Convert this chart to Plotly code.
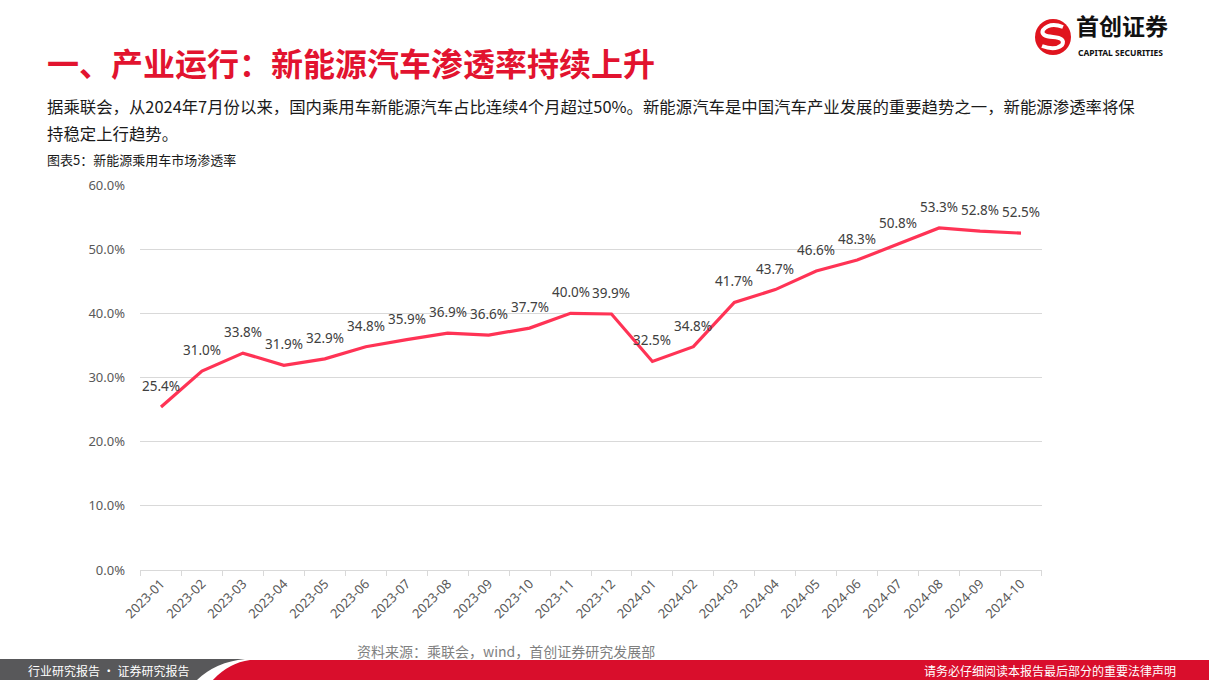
import plotly.graph_objects as go

months = ["2023-01", "2023-02", "2023-03", "2023-04", "2023-05", "2023-06", "2023-07",
          "2023-08", "2023-09", "2023-10", "2023-11", "2023-12", "2024-01", "2024-02",
          "2024-03", "2024-04", "2024-05", "2024-06", "2024-07", "2024-08", "2024-09",
          "2024-10"]
penetration_pct = [25.4, 31.0, 33.8, 31.9, 32.9, 34.8, 35.9, 36.9, 36.6, 37.7, 40.0, 39.9,
                   32.5, 34.8, 41.7, 43.7, 46.6, 48.3, 50.8, 53.3, 52.8, 52.5]
y_ticks = [0, 0.1, 0.2, 0.3, 0.4, 0.5, 0.6]

W, H = 1209, 680
L, R, T, B = 140, 1042, 185, 570

def px(x):
    return (x - L) / (R - L)

def py(y):
    return (B - y) / (B - T)

CJK = "Noto Sans CJK SC"
NUM = "Noto Sans, Noto Sans CJK SC"

vals = [v / 100 for v in penetration_pct]

fig = go.Figure()
fig.add_trace(go.Scatter(
    x=months, y=vals, mode="lines",
    line=dict(color="#FF3355", width=3.2),
    hoverinfo="skip",
))

fig.update_layout(
    width=W, height=H,
    margin=dict(l=L, r=W - R, t=T, b=H - B, pad=0),
    paper_bgcolor="white", plot_bgcolor="white",
    showlegend=False,
    xaxis=dict(
        type="category", tickangle=-45, showgrid=False,
        showline=True, linecolor="#d9d9d9", linewidth=1,
        ticks="outside", tickson="boundaries", ticklen=5, tickcolor="#d9d9d9",
        tickfont=dict(family=NUM, size=13, color="#595959"),
        fixedrange=True,
    ),
    yaxis=dict(
        range=[0, 0.6], tickvals=y_ticks, tickformat=".1%",
        showgrid=True, gridcolor="#d9d9d9", gridwidth=1,
        zeroline=False, showline=False, ticks="",
        ticklabelstandoff=14,
        tickfont=dict(family=NUM, size=13, color="#595959"),
        fixedrange=True,
    ),
)

shapes = []
# footer
shapes.append(dict(type="rect", xref="paper", yref="paper", x0=px(0), x1=px(W), y0=py(681), y1=py(659),
                   fillcolor="#58585A", line=dict(width=0), layer="above"))
def P(x, y):
    return f"{px(x)},{py(y)}"
white_path = f"M {P(196,681)} Q {P(215,662)} {P(245,659)} L {P(W,659)} L {P(W,681)} Z"
red_path = f"M {P(212,681)} Q {P(228,663)} {P(250,660)} L {P(W,660)} L {P(W,681)} Z"
shapes.append(dict(type="path", xref="paper", yref="paper", path=white_path,
                   fillcolor="white", line=dict(width=0), layer="above"))
shapes.append(dict(type="path", xref="paper", yref="paper", path=red_path,
                   fillcolor="#D90E2C", line=dict(width=0), layer="above"))
# logo circle
shapes.append(dict(type="circle", xref="paper", yref="paper",
                   x0=px(1035), x1=px(1071), y0=py(55), y1=py(19),
                   fillcolor="#E0141E", line=dict(width=0), layer="above"))
s_path = (f"M {P(1063,27)} Q {P(1050,22)} {P(1043,30)} Q {P(1040,36)} {P(1053,37)} "
          f"Q {P(1066,38)} {P(1062,45)} Q {P(1055,51)} {P(1042,46)}")
shapes.append(dict(type="path", xref="paper", yref="paper", path=s_path,
                   line=dict(color="white", width=4), layer="above"))
fig.update_layout(shapes=shapes)

ann = []
# data labels from the data
for m, v, p in zip(months, vals, penetration_pct):
    ann.append(dict(xref="x", yref="y", x=m, y=v, text=f"{p:.1f}%", showarrow=False,
                    yshift=21, xanchor="center", yanchor="middle",
                    font=dict(family=NUM, size=13.5, color="#404040")))

def text(x, y, s, size, color, family=CJK, xanchor="left", yanchor="middle"):
    ann.append(dict(xref="paper", yref="paper", x=px(x), y=py(y), text=s, showarrow=False,
                    xanchor=xanchor, yanchor=yanchor,
                    font=dict(family=family, size=size, color=color)))

text(45, 62, "<b>一、产业运行：新能源汽车渗透率持续上升</b>", 32, "#E2132F")
text(45, 106, "据乘联会，从2024年7月份以来，国内乘用车新能源汽车占比连续4个月超过50%。新能源汽车是中国汽车产业发展的重要趋势之一，新能源渗透率将保",
     16.4, "#1a1a1a")
text(45, 133, "持稳定上行趋势。", 16.4, "#1a1a1a")
text(45, 159, "图表5：新能源乘用车市场渗透率", 13, "#1a1a1a")
text(355, 651, "资料来源：乘联会，wind，首创证券研究发展部", 14, "#7f7f7f")
text(26, 670, "行业研究报告 · 证券研究报告", 12, "white")
text(1178, 670, "请务必仔细阅读本报告最后部分的重要法律声明", 12, "white", xanchor="right")
text(1074, 44, "<b>首创证券</b>", 23, "#111111", yanchor="bottom")
text(1076, 45, "<b>CAPITAL SECURITIES</b>", 8.5, "#111111", family="Noto Sans", yanchor="top")
fig.update_layout(annotations=ann)

fig.write_html("out.html", config={"displayModeBar": False},
               post_script="document.body.style.margin='0px';document.body.style.overflow='hidden';")
